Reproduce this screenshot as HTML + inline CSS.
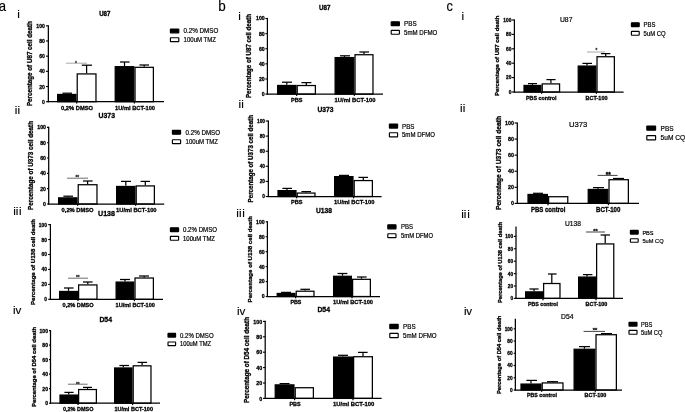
<!DOCTYPE html>
<html><head><meta charset="utf-8"><title>Figure</title>
<style>
html,body{margin:0;padding:0;background:#fff;}
body{width:685px;height:412px;overflow:hidden;}
svg{display:block;font-family:"Liberation Sans",sans-serif;filter:blur(0.35px);}
text{stroke:#000;stroke-width:0.3px;}
text.r{stroke-width:0.2px;}
text.p{stroke-width:0.15px;}
text.rm{stroke-width:0.15px;}
</style></head><body>
<svg width="685" height="412" viewBox="0 0 685 412">
<rect x="0" y="0" width="685" height="412" fill="#fff"/>
<line x1="66.80" y1="93.20" x2="66.80" y2="93.85" stroke="#000" stroke-width="1.25"/>
<line x1="62.40" y1="93.20" x2="72.00" y2="93.20" stroke="#000" stroke-width="1.25"/>
<rect x="57.62" y="94.47" width="18.35" height="7.23" fill="#000" stroke="#000" stroke-width="1.25"/>
<line x1="86.60" y1="65.20" x2="86.60" y2="73.30" stroke="#000" stroke-width="1.25"/>
<line x1="81.80" y1="65.20" x2="92.00" y2="65.20" stroke="#000" stroke-width="1.25"/>
<rect x="77.22" y="73.92" width="18.75" height="27.78" fill="#fff" stroke="#000" stroke-width="1.25"/>
<line x1="124.50" y1="62.00" x2="124.50" y2="66.05" stroke="#000" stroke-width="1.25"/>
<line x1="120.00" y1="62.00" x2="129.60" y2="62.00" stroke="#000" stroke-width="1.25"/>
<rect x="115.22" y="66.67" width="18.55" height="35.03" fill="#000" stroke="#000" stroke-width="1.25"/>
<line x1="144.20" y1="65.00" x2="144.20" y2="66.70" stroke="#000" stroke-width="1.25"/>
<line x1="139.40" y1="65.00" x2="149.00" y2="65.00" stroke="#000" stroke-width="1.25"/>
<rect x="135.03" y="67.33" width="18.35" height="34.38" fill="#fff" stroke="#000" stroke-width="1.25"/>
<line x1="48.35" y1="25.17" x2="48.35" y2="102.33" stroke="#000" stroke-width="1.25"/>
<line x1="47.73" y1="101.70" x2="164.00" y2="101.70" stroke="#000" stroke-width="1.25"/>
<line x1="46.00" y1="25.80" x2="48.35" y2="25.80" stroke="#000" stroke-width="1.125"/>
<text x="44.85" y="27.90" font-size="5.87" font-weight="bold" text-anchor="end" textLength="8.55" lengthAdjust="spacingAndGlyphs">100</text>
<line x1="46.00" y1="40.98" x2="48.35" y2="40.98" stroke="#000" stroke-width="1.125"/>
<text x="44.85" y="43.08" font-size="5.87" font-weight="bold" text-anchor="end" textLength="5.70" lengthAdjust="spacingAndGlyphs">80</text>
<line x1="46.00" y1="56.16" x2="48.35" y2="56.16" stroke="#000" stroke-width="1.125"/>
<text x="44.85" y="58.26" font-size="5.87" font-weight="bold" text-anchor="end" textLength="5.70" lengthAdjust="spacingAndGlyphs">60</text>
<line x1="46.00" y1="71.34" x2="48.35" y2="71.34" stroke="#000" stroke-width="1.125"/>
<text x="44.85" y="73.44" font-size="5.87" font-weight="bold" text-anchor="end" textLength="5.70" lengthAdjust="spacingAndGlyphs">40</text>
<line x1="46.00" y1="86.52" x2="48.35" y2="86.52" stroke="#000" stroke-width="1.125"/>
<text x="44.85" y="88.62" font-size="5.87" font-weight="bold" text-anchor="end" textLength="5.70" lengthAdjust="spacingAndGlyphs">20</text>
<line x1="46.00" y1="101.70" x2="48.35" y2="101.70" stroke="#000" stroke-width="1.125"/>
<text x="44.85" y="103.80" font-size="5.87" font-weight="bold" text-anchor="end" textLength="2.85" lengthAdjust="spacingAndGlyphs">0</text>
<line x1="76.60" y1="101.70" x2="76.60" y2="103.50" stroke="#000" stroke-width="1.25"/>
<line x1="134.40" y1="101.70" x2="134.40" y2="103.50" stroke="#000" stroke-width="1.25"/>
<line x1="66.00" y1="63.20" x2="87.00" y2="63.20" stroke="#999" stroke-width="0.85"/>
<text x="76.00" y="64.87" font-size="4.60" font-weight="bold" text-anchor="middle" style="fill:#444;stroke:#444">*</text>
<text x="104.80" y="16.30" font-size="6.35" font-weight="bold" text-anchor="middle" textLength="11.20" lengthAdjust="spacingAndGlyphs">U87</text>
<rect x="170.40" y="28.95" width="8.40" height="3.90" fill="#000" stroke="#000" stroke-width="1.15" rx="0.4"/>
<rect x="170.40" y="37.75" width="8.40" height="3.90" fill="#fff" stroke="#000" stroke-width="1.15" rx="0.4"/>
<text x="183.60" y="33.47" font-size="6.89" class="r" textLength="34.80" lengthAdjust="spacingAndGlyphs">0.2% DMSO</text>
<text x="183.60" y="42.18" font-size="6.63" class="r" textLength="32.40" lengthAdjust="spacingAndGlyphs">100uM TMZ</text>
<text x="77.00" y="110.00" font-size="6.05" font-weight="bold" text-anchor="middle" textLength="32.00" lengthAdjust="spacingAndGlyphs">0,2% DMSO</text>
<text x="135.00" y="110.00" font-size="6.00" font-weight="bold" text-anchor="middle" textLength="40.00" lengthAdjust="spacingAndGlyphs">1U/ml BCT-100</text>
<text x="32.50" y="63.60" font-size="6.37" font-weight="bold" text-anchor="middle" textLength="85.00" lengthAdjust="spacingAndGlyphs" transform="rotate(-90 32.50 63.60)">Percentage of U87 cell death</text>
<line x1="67.80" y1="196.20" x2="67.80" y2="197.25" stroke="#000" stroke-width="1.25"/>
<line x1="63.40" y1="196.20" x2="73.00" y2="196.20" stroke="#000" stroke-width="1.25"/>
<rect x="58.62" y="197.88" width="18.35" height="6.12" fill="#000" stroke="#000" stroke-width="1.25"/>
<line x1="87.60" y1="181.00" x2="87.60" y2="184.10" stroke="#000" stroke-width="1.25"/>
<line x1="83.00" y1="181.00" x2="92.60" y2="181.00" stroke="#000" stroke-width="1.25"/>
<rect x="78.22" y="184.72" width="18.75" height="19.28" fill="#fff" stroke="#000" stroke-width="1.25"/>
<line x1="125.80" y1="181.40" x2="125.80" y2="185.85" stroke="#000" stroke-width="1.25"/>
<line x1="121.00" y1="181.40" x2="131.00" y2="181.40" stroke="#000" stroke-width="1.25"/>
<rect x="116.62" y="186.47" width="18.35" height="17.53" fill="#000" stroke="#000" stroke-width="1.25"/>
<line x1="145.30" y1="181.40" x2="145.30" y2="185.30" stroke="#000" stroke-width="1.25"/>
<line x1="140.60" y1="181.40" x2="150.00" y2="181.40" stroke="#000" stroke-width="1.25"/>
<rect x="136.22" y="185.92" width="18.15" height="18.08" fill="#fff" stroke="#000" stroke-width="1.25"/>
<line x1="48.70" y1="126.78" x2="48.70" y2="204.62" stroke="#000" stroke-width="1.25"/>
<line x1="48.08" y1="204.00" x2="164.20" y2="204.00" stroke="#000" stroke-width="1.25"/>
<line x1="47.00" y1="127.40" x2="48.70" y2="127.40" stroke="#000" stroke-width="1.125"/>
<text x="46.00" y="129.40" font-size="5.59" font-weight="bold" text-anchor="end" textLength="8.70" lengthAdjust="spacingAndGlyphs">100</text>
<line x1="47.00" y1="142.72" x2="48.70" y2="142.72" stroke="#000" stroke-width="1.125"/>
<text x="46.00" y="144.72" font-size="5.59" font-weight="bold" text-anchor="end" textLength="5.80" lengthAdjust="spacingAndGlyphs">80</text>
<line x1="47.00" y1="158.04" x2="48.70" y2="158.04" stroke="#000" stroke-width="1.125"/>
<text x="46.00" y="160.04" font-size="5.59" font-weight="bold" text-anchor="end" textLength="5.80" lengthAdjust="spacingAndGlyphs">60</text>
<line x1="47.00" y1="173.36" x2="48.70" y2="173.36" stroke="#000" stroke-width="1.125"/>
<text x="46.00" y="175.36" font-size="5.59" font-weight="bold" text-anchor="end" textLength="5.80" lengthAdjust="spacingAndGlyphs">40</text>
<line x1="47.00" y1="188.68" x2="48.70" y2="188.68" stroke="#000" stroke-width="1.125"/>
<text x="46.00" y="190.68" font-size="5.59" font-weight="bold" text-anchor="end" textLength="5.80" lengthAdjust="spacingAndGlyphs">20</text>
<line x1="47.00" y1="204.00" x2="48.70" y2="204.00" stroke="#000" stroke-width="1.125"/>
<text x="46.00" y="206.00" font-size="5.59" font-weight="bold" text-anchor="end" textLength="2.90" lengthAdjust="spacingAndGlyphs">0</text>
<line x1="77.60" y1="204.00" x2="77.60" y2="205.80" stroke="#000" stroke-width="1.25"/>
<line x1="135.60" y1="204.00" x2="135.60" y2="205.80" stroke="#000" stroke-width="1.25"/>
<line x1="67.00" y1="178.20" x2="88.00" y2="178.20" stroke="#555" stroke-width="0.85"/>
<text x="77.30" y="179.27" font-size="4.60" font-weight="bold" text-anchor="middle" style="fill:#333;stroke:#333">**</text>
<text x="106.80" y="118.00" font-size="7.13" font-weight="bold" text-anchor="middle" textLength="16.40" lengthAdjust="spacingAndGlyphs">U373</text>
<rect x="172.40" y="130.35" width="8.20" height="3.90" fill="#000" stroke="#000" stroke-width="1.15" rx="0.4"/>
<rect x="172.40" y="139.75" width="8.20" height="3.90" fill="#fff" stroke="#000" stroke-width="1.15" rx="0.4"/>
<text x="185.60" y="134.84" font-size="6.81" class="r" textLength="34.40" lengthAdjust="spacingAndGlyphs">0.2% DMSO</text>
<text x="185.60" y="144.18" font-size="6.63" class="r" textLength="32.40" lengthAdjust="spacingAndGlyphs">100uM TMZ</text>
<text x="77.60" y="212.00" font-size="6.05" font-weight="bold" text-anchor="middle" textLength="32.00" lengthAdjust="spacingAndGlyphs">0,2% DMSO</text>
<text x="136.30" y="212.00" font-size="6.09" font-weight="bold" text-anchor="middle" textLength="40.60" lengthAdjust="spacingAndGlyphs">1U/ml BCT-100</text>
<text x="32.95" y="165.50" font-size="6.41" font-weight="bold" text-anchor="middle" textLength="89.00" lengthAdjust="spacingAndGlyphs" transform="rotate(-90 32.95 165.50)">Percentage of U373 cell death</text>
<line x1="68.50" y1="288.00" x2="68.50" y2="290.85" stroke="#000" stroke-width="1.25"/>
<line x1="64.00" y1="288.00" x2="73.60" y2="288.00" stroke="#000" stroke-width="1.25"/>
<rect x="59.62" y="291.48" width="17.75" height="7.82" fill="#000" stroke="#000" stroke-width="1.25"/>
<line x1="87.80" y1="282.00" x2="87.80" y2="284.30" stroke="#000" stroke-width="1.25"/>
<line x1="83.00" y1="282.00" x2="92.60" y2="282.00" stroke="#000" stroke-width="1.25"/>
<rect x="78.62" y="284.93" width="18.35" height="14.38" fill="#fff" stroke="#000" stroke-width="1.25"/>
<line x1="124.95" y1="279.50" x2="124.95" y2="281.45" stroke="#000" stroke-width="1.25"/>
<line x1="120.00" y1="279.50" x2="130.00" y2="279.50" stroke="#000" stroke-width="1.25"/>
<rect x="116.12" y="282.08" width="17.65" height="17.22" fill="#000" stroke="#000" stroke-width="1.25"/>
<line x1="144.20" y1="276.00" x2="144.20" y2="277.40" stroke="#000" stroke-width="1.25"/>
<line x1="139.00" y1="276.00" x2="149.00" y2="276.00" stroke="#000" stroke-width="1.25"/>
<rect x="135.03" y="278.02" width="18.35" height="21.28" fill="#fff" stroke="#000" stroke-width="1.25"/>
<line x1="50.40" y1="223.97" x2="50.40" y2="299.93" stroke="#000" stroke-width="1.25"/>
<line x1="49.77" y1="299.30" x2="163.00" y2="299.30" stroke="#000" stroke-width="1.25"/>
<line x1="48.20" y1="224.60" x2="50.40" y2="224.60" stroke="#000" stroke-width="1.125"/>
<text x="46.90" y="226.60" font-size="5.59" font-weight="bold" text-anchor="end" textLength="8.10" lengthAdjust="spacingAndGlyphs">100</text>
<line x1="48.20" y1="239.54" x2="50.40" y2="239.54" stroke="#000" stroke-width="1.125"/>
<text x="46.90" y="241.54" font-size="5.59" font-weight="bold" text-anchor="end" textLength="5.40" lengthAdjust="spacingAndGlyphs">80</text>
<line x1="48.20" y1="254.48" x2="50.40" y2="254.48" stroke="#000" stroke-width="1.125"/>
<text x="46.90" y="256.48" font-size="5.59" font-weight="bold" text-anchor="end" textLength="5.40" lengthAdjust="spacingAndGlyphs">60</text>
<line x1="48.20" y1="269.42" x2="50.40" y2="269.42" stroke="#000" stroke-width="1.125"/>
<text x="46.90" y="271.42" font-size="5.59" font-weight="bold" text-anchor="end" textLength="5.40" lengthAdjust="spacingAndGlyphs">40</text>
<line x1="48.20" y1="284.36" x2="50.40" y2="284.36" stroke="#000" stroke-width="1.125"/>
<text x="46.90" y="286.36" font-size="5.59" font-weight="bold" text-anchor="end" textLength="5.40" lengthAdjust="spacingAndGlyphs">20</text>
<line x1="48.20" y1="299.30" x2="50.40" y2="299.30" stroke="#000" stroke-width="1.125"/>
<text x="46.90" y="301.30" font-size="5.59" font-weight="bold" text-anchor="end" textLength="2.70" lengthAdjust="spacingAndGlyphs">0</text>
<line x1="78.00" y1="299.30" x2="78.00" y2="301.10" stroke="#000" stroke-width="1.25"/>
<line x1="134.40" y1="299.30" x2="134.40" y2="301.10" stroke="#000" stroke-width="1.25"/>
<line x1="68.00" y1="278.20" x2="88.00" y2="278.20" stroke="#555" stroke-width="0.85"/>
<text x="77.70" y="279.27" font-size="4.60" font-weight="bold" text-anchor="middle" style="fill:#333;stroke:#333">**</text>
<text x="106.50" y="216.00" font-size="7.40" font-weight="bold" text-anchor="middle" textLength="17.00" lengthAdjust="spacingAndGlyphs">U138</text>
<rect x="170.40" y="227.75" width="8.20" height="3.90" fill="#000" stroke="#000" stroke-width="1.15" rx="0.4"/>
<rect x="170.40" y="236.35" width="8.20" height="3.90" fill="#fff" stroke="#000" stroke-width="1.15" rx="0.4"/>
<text x="183.00" y="232.21" font-size="6.73" class="r" textLength="34.00" lengthAdjust="spacingAndGlyphs">0.2% DMSO</text>
<text x="183.00" y="240.75" font-size="6.55" class="r" textLength="32.00" lengthAdjust="spacingAndGlyphs">100uM TMZ</text>
<text x="78.10" y="307.00" font-size="5.86" font-weight="bold" text-anchor="middle" textLength="31.00" lengthAdjust="spacingAndGlyphs">0,2% DMSO</text>
<text x="135.30" y="307.00" font-size="5.91" font-weight="bold" text-anchor="middle" textLength="39.40" lengthAdjust="spacingAndGlyphs">1U/ml BCT-100</text>
<text x="34.80" y="262.00" font-size="6.19" font-weight="bold" text-anchor="middle" textLength="86.00" lengthAdjust="spacingAndGlyphs" transform="rotate(-90 34.80 262.00)">Percentage of U138 cell death</text>
<line x1="68.70" y1="392.40" x2="68.70" y2="394.45" stroke="#000" stroke-width="1.25"/>
<line x1="64.40" y1="392.40" x2="73.60" y2="392.40" stroke="#000" stroke-width="1.25"/>
<rect x="60.02" y="395.08" width="17.35" height="8.12" fill="#000" stroke="#000" stroke-width="1.25"/>
<line x1="87.50" y1="387.40" x2="87.50" y2="388.90" stroke="#000" stroke-width="1.25"/>
<line x1="83.00" y1="387.40" x2="92.00" y2="387.40" stroke="#000" stroke-width="1.25"/>
<rect x="78.62" y="389.52" width="17.75" height="13.68" fill="#fff" stroke="#000" stroke-width="1.25"/>
<line x1="123.30" y1="365.50" x2="123.30" y2="367.35" stroke="#000" stroke-width="1.25"/>
<line x1="119.40" y1="365.50" x2="129.00" y2="365.50" stroke="#000" stroke-width="1.25"/>
<rect x="114.62" y="367.98" width="17.35" height="35.22" fill="#000" stroke="#000" stroke-width="1.25"/>
<line x1="142.10" y1="362.40" x2="142.10" y2="365.20" stroke="#000" stroke-width="1.25"/>
<line x1="137.60" y1="362.40" x2="147.00" y2="362.40" stroke="#000" stroke-width="1.25"/>
<rect x="133.22" y="365.82" width="17.75" height="37.38" fill="#fff" stroke="#000" stroke-width="1.25"/>
<line x1="50.50" y1="329.98" x2="50.50" y2="403.82" stroke="#000" stroke-width="1.25"/>
<line x1="49.88" y1="403.20" x2="160.00" y2="403.20" stroke="#000" stroke-width="1.25"/>
<line x1="49.00" y1="330.60" x2="50.50" y2="330.60" stroke="#000" stroke-width="1.125"/>
<text x="47.95" y="332.55" font-size="5.45" font-weight="bold" text-anchor="end" textLength="8.40" lengthAdjust="spacingAndGlyphs">100</text>
<line x1="49.00" y1="345.12" x2="50.50" y2="345.12" stroke="#000" stroke-width="1.125"/>
<text x="47.95" y="347.07" font-size="5.45" font-weight="bold" text-anchor="end" textLength="5.60" lengthAdjust="spacingAndGlyphs">80</text>
<line x1="49.00" y1="359.64" x2="50.50" y2="359.64" stroke="#000" stroke-width="1.125"/>
<text x="47.95" y="361.59" font-size="5.45" font-weight="bold" text-anchor="end" textLength="5.60" lengthAdjust="spacingAndGlyphs">60</text>
<line x1="49.00" y1="374.16" x2="50.50" y2="374.16" stroke="#000" stroke-width="1.125"/>
<text x="47.95" y="376.11" font-size="5.45" font-weight="bold" text-anchor="end" textLength="5.60" lengthAdjust="spacingAndGlyphs">40</text>
<line x1="49.00" y1="388.68" x2="50.50" y2="388.68" stroke="#000" stroke-width="1.125"/>
<text x="47.95" y="390.63" font-size="5.45" font-weight="bold" text-anchor="end" textLength="5.60" lengthAdjust="spacingAndGlyphs">20</text>
<line x1="49.00" y1="403.20" x2="50.50" y2="403.20" stroke="#000" stroke-width="1.125"/>
<text x="47.95" y="405.15" font-size="5.45" font-weight="bold" text-anchor="end" textLength="2.80" lengthAdjust="spacingAndGlyphs">0</text>
<line x1="78.00" y1="403.20" x2="78.00" y2="405.00" stroke="#000" stroke-width="1.25"/>
<line x1="132.60" y1="403.20" x2="132.60" y2="405.00" stroke="#000" stroke-width="1.25"/>
<line x1="68.00" y1="384.20" x2="87.60" y2="384.20" stroke="#555" stroke-width="0.85"/>
<text x="77.70" y="385.67" font-size="4.60" font-weight="bold" text-anchor="middle" style="fill:#333;stroke:#333">**</text>
<text x="105.70" y="321.60" font-size="7.14" font-weight="bold" text-anchor="middle" textLength="12.60" lengthAdjust="spacingAndGlyphs">D54</text>
<rect x="168.00" y="333.35" width="7.60" height="3.70" fill="#000" stroke="#000" stroke-width="1.15" rx="0.4"/>
<rect x="168.00" y="341.95" width="7.60" height="3.70" fill="#fff" stroke="#000" stroke-width="1.15" rx="0.4"/>
<text x="180.00" y="337.68" font-size="6.65" class="r" textLength="33.60" lengthAdjust="spacingAndGlyphs">0.2% DMSO</text>
<text x="180.00" y="346.17" font-size="6.35" class="r" textLength="31.00" lengthAdjust="spacingAndGlyphs">100uM TMZ</text>
<text x="78.20" y="411.00" font-size="5.74" font-weight="bold" text-anchor="middle" textLength="30.40" lengthAdjust="spacingAndGlyphs">0,2% DMSO</text>
<text x="133.70" y="411.00" font-size="5.79" font-weight="bold" text-anchor="middle" textLength="38.60" lengthAdjust="spacingAndGlyphs">1U/ml BCT-100</text>
<text x="36.20" y="367.00" font-size="5.99" font-weight="bold" text-anchor="middle" textLength="80.00" lengthAdjust="spacingAndGlyphs" transform="rotate(-90 36.20 367.00)">Percentage of D54 cell death</text>
<line x1="286.80" y1="82.20" x2="286.80" y2="84.85" stroke="#000" stroke-width="1.25"/>
<line x1="282.00" y1="82.20" x2="292.00" y2="82.20" stroke="#000" stroke-width="1.25"/>
<rect x="277.62" y="85.47" width="18.35" height="8.62" fill="#000" stroke="#000" stroke-width="1.25"/>
<line x1="306.30" y1="82.60" x2="306.30" y2="84.90" stroke="#000" stroke-width="1.25"/>
<line x1="301.40" y1="82.60" x2="311.40" y2="82.60" stroke="#000" stroke-width="1.25"/>
<rect x="297.23" y="85.53" width="18.15" height="8.57" fill="#fff" stroke="#000" stroke-width="1.25"/>
<line x1="344.45" y1="55.80" x2="344.45" y2="56.95" stroke="#000" stroke-width="1.25"/>
<line x1="340.00" y1="55.80" x2="350.00" y2="55.80" stroke="#000" stroke-width="1.25"/>
<rect x="335.12" y="57.58" width="18.65" height="36.52" fill="#000" stroke="#000" stroke-width="1.25"/>
<line x1="364.00" y1="52.00" x2="364.00" y2="54.10" stroke="#000" stroke-width="1.25"/>
<line x1="359.40" y1="52.00" x2="369.00" y2="52.00" stroke="#000" stroke-width="1.25"/>
<rect x="355.02" y="54.73" width="17.95" height="39.37" fill="#fff" stroke="#000" stroke-width="1.25"/>
<line x1="267.40" y1="17.88" x2="267.40" y2="94.72" stroke="#000" stroke-width="1.25"/>
<line x1="266.77" y1="94.10" x2="383.00" y2="94.10" stroke="#000" stroke-width="1.25"/>
<line x1="265.40" y1="18.50" x2="267.40" y2="18.50" stroke="#000" stroke-width="1.125"/>
<text x="264.70" y="20.45" font-size="5.45" font-weight="bold" text-anchor="end" textLength="8.70" lengthAdjust="spacingAndGlyphs">100</text>
<line x1="265.40" y1="33.62" x2="267.40" y2="33.62" stroke="#000" stroke-width="1.125"/>
<text x="264.70" y="35.57" font-size="5.45" font-weight="bold" text-anchor="end" textLength="5.80" lengthAdjust="spacingAndGlyphs">80</text>
<line x1="265.40" y1="48.74" x2="267.40" y2="48.74" stroke="#000" stroke-width="1.125"/>
<text x="264.70" y="50.69" font-size="5.45" font-weight="bold" text-anchor="end" textLength="5.80" lengthAdjust="spacingAndGlyphs">60</text>
<line x1="265.40" y1="63.86" x2="267.40" y2="63.86" stroke="#000" stroke-width="1.125"/>
<text x="264.70" y="65.81" font-size="5.45" font-weight="bold" text-anchor="end" textLength="5.80" lengthAdjust="spacingAndGlyphs">40</text>
<line x1="265.40" y1="78.98" x2="267.40" y2="78.98" stroke="#000" stroke-width="1.125"/>
<text x="264.70" y="80.93" font-size="5.45" font-weight="bold" text-anchor="end" textLength="5.80" lengthAdjust="spacingAndGlyphs">20</text>
<line x1="265.40" y1="94.10" x2="267.40" y2="94.10" stroke="#000" stroke-width="1.125"/>
<text x="264.70" y="96.05" font-size="5.45" font-weight="bold" text-anchor="end" textLength="2.90" lengthAdjust="spacingAndGlyphs">0</text>
<line x1="296.60" y1="94.10" x2="296.60" y2="95.90" stroke="#000" stroke-width="1.25"/>
<line x1="354.40" y1="94.10" x2="354.40" y2="95.90" stroke="#000" stroke-width="1.25"/>
<text x="324.70" y="9.60" font-size="6.60" font-weight="bold" text-anchor="middle" textLength="11.40" lengthAdjust="spacingAndGlyphs">U87</text>
<rect x="391.20" y="21.75" width="8.20" height="3.90" fill="#000" stroke="#000" stroke-width="1.15" rx="0.4"/>
<rect x="391.20" y="30.35" width="8.20" height="3.90" fill="#fff" stroke="#000" stroke-width="1.15" rx="0.4"/>
<text x="404.00" y="26.28" font-size="6.93" class="r" textLength="12.60" lengthAdjust="spacingAndGlyphs">PBS</text>
<text x="404.00" y="34.81" font-size="6.73" class="r" textLength="33.30" lengthAdjust="spacingAndGlyphs">5mM DFMO</text>
<text x="296.70" y="102.00" font-size="5.82" font-weight="bold" text-anchor="middle" textLength="11.40" lengthAdjust="spacingAndGlyphs">PBS</text>
<text x="355.00" y="102.00" font-size="6.12" font-weight="bold" text-anchor="middle" textLength="40.80" lengthAdjust="spacingAndGlyphs">1U/ml BCT-100</text>
<text x="251.30" y="56.00" font-size="6.29" font-weight="bold" text-anchor="middle" textLength="84.00" lengthAdjust="spacingAndGlyphs" transform="rotate(-90 251.30 56.00)">Percentage of U87 cell death</text>
<line x1="287.00" y1="188.40" x2="287.00" y2="190.00" stroke="#000" stroke-width="1.25"/>
<line x1="282.40" y1="188.40" x2="292.00" y2="188.40" stroke="#000" stroke-width="1.25"/>
<rect x="278.02" y="190.62" width="17.95" height="5.88" fill="#000" stroke="#000" stroke-width="1.25"/>
<line x1="306.10" y1="191.60" x2="306.10" y2="192.45" stroke="#000" stroke-width="1.25"/>
<line x1="301.40" y1="191.60" x2="311.00" y2="191.60" stroke="#000" stroke-width="1.25"/>
<rect x="297.23" y="193.07" width="17.75" height="3.43" fill="#fff" stroke="#000" stroke-width="1.25"/>
<line x1="343.80" y1="175.40" x2="343.80" y2="176.00" stroke="#000" stroke-width="1.25"/>
<line x1="339.00" y1="175.40" x2="349.00" y2="175.40" stroke="#000" stroke-width="1.25"/>
<rect x="334.62" y="176.62" width="18.35" height="19.88" fill="#000" stroke="#000" stroke-width="1.25"/>
<line x1="363.30" y1="177.40" x2="363.30" y2="179.95" stroke="#000" stroke-width="1.25"/>
<line x1="358.40" y1="177.40" x2="368.00" y2="177.40" stroke="#000" stroke-width="1.25"/>
<rect x="354.23" y="180.57" width="18.15" height="15.93" fill="#fff" stroke="#000" stroke-width="1.25"/>
<line x1="268.35" y1="120.38" x2="268.35" y2="197.12" stroke="#000" stroke-width="1.25"/>
<line x1="267.73" y1="196.50" x2="381.60" y2="196.50" stroke="#000" stroke-width="1.25"/>
<line x1="265.70" y1="121.00" x2="268.35" y2="121.00" stroke="#000" stroke-width="1.125"/>
<text x="265.00" y="122.95" font-size="5.45" font-weight="bold" text-anchor="end" textLength="8.00" lengthAdjust="spacingAndGlyphs">100</text>
<line x1="265.70" y1="136.10" x2="268.35" y2="136.10" stroke="#000" stroke-width="1.125"/>
<text x="265.00" y="138.05" font-size="5.45" font-weight="bold" text-anchor="end" textLength="5.33" lengthAdjust="spacingAndGlyphs">80</text>
<line x1="265.70" y1="151.20" x2="268.35" y2="151.20" stroke="#000" stroke-width="1.125"/>
<text x="265.00" y="153.15" font-size="5.45" font-weight="bold" text-anchor="end" textLength="5.33" lengthAdjust="spacingAndGlyphs">60</text>
<line x1="265.70" y1="166.30" x2="268.35" y2="166.30" stroke="#000" stroke-width="1.125"/>
<text x="265.00" y="168.25" font-size="5.45" font-weight="bold" text-anchor="end" textLength="5.33" lengthAdjust="spacingAndGlyphs">40</text>
<line x1="265.70" y1="181.40" x2="268.35" y2="181.40" stroke="#000" stroke-width="1.125"/>
<text x="265.00" y="183.35" font-size="5.45" font-weight="bold" text-anchor="end" textLength="5.33" lengthAdjust="spacingAndGlyphs">20</text>
<line x1="265.70" y1="196.50" x2="268.35" y2="196.50" stroke="#000" stroke-width="1.125"/>
<text x="265.00" y="198.45" font-size="5.45" font-weight="bold" text-anchor="end" textLength="2.67" lengthAdjust="spacingAndGlyphs">0</text>
<line x1="296.60" y1="196.50" x2="296.60" y2="198.30" stroke="#000" stroke-width="1.25"/>
<line x1="353.60" y1="196.50" x2="353.60" y2="198.30" stroke="#000" stroke-width="1.25"/>
<text x="325.40" y="112.40" font-size="6.96" font-weight="bold" text-anchor="middle" textLength="16.00" lengthAdjust="spacingAndGlyphs">U373</text>
<rect x="389.40" y="123.95" width="8.20" height="4.10" fill="#000" stroke="#000" stroke-width="1.15" rx="0.4"/>
<rect x="389.40" y="132.75" width="8.20" height="4.10" fill="#fff" stroke="#000" stroke-width="1.15" rx="0.4"/>
<text x="402.00" y="128.54" font-size="6.82" class="r" textLength="12.40" lengthAdjust="spacingAndGlyphs">PBS</text>
<text x="402.00" y="137.29" font-size="6.67" class="r" textLength="33.00" lengthAdjust="spacingAndGlyphs">5mM DFMO</text>
<text x="296.70" y="204.00" font-size="5.82" font-weight="bold" text-anchor="middle" textLength="11.40" lengthAdjust="spacingAndGlyphs">PBS</text>
<text x="354.20" y="204.00" font-size="6.06" font-weight="bold" text-anchor="middle" textLength="40.40" lengthAdjust="spacingAndGlyphs">1U/ml BCT-100</text>
<text x="253.10" y="158.70" font-size="6.29" font-weight="bold" text-anchor="middle" textLength="87.40" lengthAdjust="spacingAndGlyphs" transform="rotate(-90 253.10 158.70)">Percentage of U373 cell death</text>
<line x1="286.10" y1="292.40" x2="286.10" y2="292.85" stroke="#000" stroke-width="1.25"/>
<line x1="281.00" y1="292.40" x2="291.00" y2="292.40" stroke="#000" stroke-width="1.25"/>
<rect x="277.23" y="293.48" width="17.75" height="3.02" fill="#000" stroke="#000" stroke-width="1.25"/>
<line x1="305.10" y1="289.30" x2="305.10" y2="290.60" stroke="#000" stroke-width="1.25"/>
<line x1="300.40" y1="289.30" x2="310.00" y2="289.30" stroke="#000" stroke-width="1.25"/>
<rect x="296.23" y="291.22" width="17.75" height="5.28" fill="#fff" stroke="#000" stroke-width="1.25"/>
<line x1="342.50" y1="273.50" x2="342.50" y2="275.65" stroke="#000" stroke-width="1.25"/>
<line x1="337.60" y1="273.50" x2="347.40" y2="273.50" stroke="#000" stroke-width="1.25"/>
<rect x="333.62" y="276.28" width="17.75" height="20.22" fill="#000" stroke="#000" stroke-width="1.25"/>
<line x1="361.50" y1="277.00" x2="361.50" y2="278.70" stroke="#000" stroke-width="1.25"/>
<line x1="357.00" y1="277.00" x2="366.60" y2="277.00" stroke="#000" stroke-width="1.25"/>
<rect x="352.62" y="279.32" width="17.75" height="17.18" fill="#fff" stroke="#000" stroke-width="1.25"/>
<line x1="267.40" y1="221.18" x2="267.40" y2="297.12" stroke="#000" stroke-width="1.25"/>
<line x1="266.77" y1="296.50" x2="380.00" y2="296.50" stroke="#000" stroke-width="1.25"/>
<line x1="265.70" y1="221.80" x2="267.40" y2="221.80" stroke="#000" stroke-width="1.125"/>
<text x="264.70" y="223.70" font-size="5.31" font-weight="bold" text-anchor="end" textLength="8.60" lengthAdjust="spacingAndGlyphs">100</text>
<line x1="265.70" y1="236.74" x2="267.40" y2="236.74" stroke="#000" stroke-width="1.125"/>
<text x="264.70" y="238.64" font-size="5.31" font-weight="bold" text-anchor="end" textLength="5.73" lengthAdjust="spacingAndGlyphs">80</text>
<line x1="265.70" y1="251.68" x2="267.40" y2="251.68" stroke="#000" stroke-width="1.125"/>
<text x="264.70" y="253.58" font-size="5.31" font-weight="bold" text-anchor="end" textLength="5.73" lengthAdjust="spacingAndGlyphs">60</text>
<line x1="265.70" y1="266.62" x2="267.40" y2="266.62" stroke="#000" stroke-width="1.125"/>
<text x="264.70" y="268.52" font-size="5.31" font-weight="bold" text-anchor="end" textLength="5.73" lengthAdjust="spacingAndGlyphs">40</text>
<line x1="265.70" y1="281.56" x2="267.40" y2="281.56" stroke="#000" stroke-width="1.125"/>
<text x="264.70" y="283.46" font-size="5.31" font-weight="bold" text-anchor="end" textLength="5.73" lengthAdjust="spacingAndGlyphs">20</text>
<line x1="265.70" y1="296.50" x2="267.40" y2="296.50" stroke="#000" stroke-width="1.125"/>
<text x="264.70" y="298.40" font-size="5.31" font-weight="bold" text-anchor="end" textLength="2.87" lengthAdjust="spacingAndGlyphs">0</text>
<line x1="295.60" y1="296.50" x2="295.60" y2="298.30" stroke="#000" stroke-width="1.25"/>
<line x1="352.00" y1="296.50" x2="352.00" y2="298.30" stroke="#000" stroke-width="1.25"/>
<text x="324.00" y="213.00" font-size="6.96" font-weight="bold" text-anchor="middle" textLength="16.00" lengthAdjust="spacingAndGlyphs">U138</text>
<rect x="387.80" y="224.75" width="8.20" height="4.10" fill="#000" stroke="#000" stroke-width="1.15" rx="0.4"/>
<rect x="387.80" y="233.75" width="8.20" height="3.90" fill="#fff" stroke="#000" stroke-width="1.15" rx="0.4"/>
<text x="401.00" y="229.26" font-size="6.60" class="r" textLength="12.00" lengthAdjust="spacingAndGlyphs">PBS</text>
<text x="401.00" y="238.11" font-size="6.47" class="r" textLength="32.00" lengthAdjust="spacingAndGlyphs">5mM DFMO</text>
<text x="295.90" y="304.00" font-size="5.62" font-weight="bold" text-anchor="middle" textLength="11.00" lengthAdjust="spacingAndGlyphs">PBS</text>
<text x="353.00" y="304.00" font-size="6.00" font-weight="bold" text-anchor="middle" textLength="40.00" lengthAdjust="spacingAndGlyphs">1U/ml BCT-100</text>
<text x="252.00" y="259.20" font-size="6.22" font-weight="bold" text-anchor="middle" textLength="86.40" lengthAdjust="spacingAndGlyphs" transform="rotate(-90 252.00 259.20)">Percentage of U138 cell death</text>
<line x1="284.60" y1="383.60" x2="284.60" y2="384.25" stroke="#000" stroke-width="1.25"/>
<line x1="279.60" y1="383.60" x2="289.60" y2="383.60" stroke="#000" stroke-width="1.25"/>
<rect x="275.23" y="384.88" width="18.75" height="13.52" fill="#000" stroke="#000" stroke-width="1.25"/>
<rect x="295.23" y="387.72" width="18.15" height="10.68" fill="#fff" stroke="#000" stroke-width="1.25"/>
<line x1="343.00" y1="355.30" x2="343.00" y2="356.45" stroke="#000" stroke-width="1.25"/>
<line x1="338.00" y1="355.30" x2="348.00" y2="355.30" stroke="#000" stroke-width="1.25"/>
<rect x="333.62" y="357.08" width="18.75" height="41.32" fill="#000" stroke="#000" stroke-width="1.25"/>
<line x1="363.00" y1="352.40" x2="363.00" y2="356.10" stroke="#000" stroke-width="1.25"/>
<line x1="358.00" y1="352.40" x2="367.60" y2="352.40" stroke="#000" stroke-width="1.25"/>
<rect x="353.62" y="356.72" width="18.75" height="41.68" fill="#fff" stroke="#000" stroke-width="1.25"/>
<line x1="265.20" y1="320.77" x2="265.20" y2="399.02" stroke="#000" stroke-width="1.25"/>
<line x1="264.57" y1="398.40" x2="381.60" y2="398.40" stroke="#000" stroke-width="1.25"/>
<line x1="263.00" y1="321.40" x2="265.20" y2="321.40" stroke="#000" stroke-width="1.125"/>
<text x="262.30" y="323.50" font-size="5.87" font-weight="bold" text-anchor="end" textLength="9.00" lengthAdjust="spacingAndGlyphs">100</text>
<line x1="263.00" y1="336.80" x2="265.20" y2="336.80" stroke="#000" stroke-width="1.125"/>
<text x="262.30" y="338.90" font-size="5.87" font-weight="bold" text-anchor="end" textLength="6.00" lengthAdjust="spacingAndGlyphs">80</text>
<line x1="263.00" y1="352.20" x2="265.20" y2="352.20" stroke="#000" stroke-width="1.125"/>
<text x="262.30" y="354.30" font-size="5.87" font-weight="bold" text-anchor="end" textLength="6.00" lengthAdjust="spacingAndGlyphs">60</text>
<line x1="263.00" y1="367.60" x2="265.20" y2="367.60" stroke="#000" stroke-width="1.125"/>
<text x="262.30" y="369.70" font-size="5.87" font-weight="bold" text-anchor="end" textLength="6.00" lengthAdjust="spacingAndGlyphs">40</text>
<line x1="263.00" y1="383.00" x2="265.20" y2="383.00" stroke="#000" stroke-width="1.125"/>
<text x="262.30" y="385.10" font-size="5.87" font-weight="bold" text-anchor="end" textLength="6.00" lengthAdjust="spacingAndGlyphs">20</text>
<line x1="263.00" y1="398.40" x2="265.20" y2="398.40" stroke="#000" stroke-width="1.125"/>
<text x="262.30" y="400.50" font-size="5.87" font-weight="bold" text-anchor="end" textLength="3.00" lengthAdjust="spacingAndGlyphs">0</text>
<line x1="294.60" y1="398.40" x2="294.60" y2="400.20" stroke="#000" stroke-width="1.25"/>
<line x1="353.00" y1="398.40" x2="353.00" y2="400.20" stroke="#000" stroke-width="1.25"/>
<text x="323.70" y="312.00" font-size="7.14" font-weight="bold" text-anchor="middle" textLength="12.60" lengthAdjust="spacingAndGlyphs">D54</text>
<rect x="389.80" y="324.35" width="8.40" height="4.30" fill="#000" stroke="#000" stroke-width="1.15" rx="0.4"/>
<rect x="389.80" y="333.35" width="8.40" height="4.30" fill="#fff" stroke="#000" stroke-width="1.15" rx="0.4"/>
<text x="403.00" y="329.08" font-size="6.93" class="r" textLength="12.60" lengthAdjust="spacingAndGlyphs">PBS</text>
<text x="403.00" y="338.03" font-size="6.79" class="r" textLength="33.60" lengthAdjust="spacingAndGlyphs">5mM DFMO</text>
<text x="295.00" y="406.00" font-size="5.72" font-weight="bold" text-anchor="middle" textLength="11.20" lengthAdjust="spacingAndGlyphs">PBS</text>
<text x="353.70" y="406.00" font-size="6.21" font-weight="bold" text-anchor="middle" textLength="41.40" lengthAdjust="spacingAndGlyphs">1U/ml BCT-100</text>
<text x="249.10" y="360.00" font-size="6.44" font-weight="bold" text-anchor="middle" textLength="86.00" lengthAdjust="spacingAndGlyphs" transform="rotate(-90 249.10 360.00)">Percentage of D54 cell death</text>
<line x1="532.50" y1="83.60" x2="532.50" y2="84.85" stroke="#000" stroke-width="1.25"/>
<line x1="528.00" y1="83.60" x2="537.00" y2="83.60" stroke="#000" stroke-width="1.25"/>
<rect x="524.02" y="85.47" width="16.95" height="6.53" fill="#000" stroke="#000" stroke-width="1.25"/>
<line x1="550.90" y1="79.60" x2="550.90" y2="83.30" stroke="#000" stroke-width="1.25"/>
<line x1="546.40" y1="79.60" x2="555.60" y2="79.60" stroke="#000" stroke-width="1.25"/>
<rect x="542.23" y="83.92" width="17.35" height="8.08" fill="#fff" stroke="#000" stroke-width="1.25"/>
<line x1="587.00" y1="63.40" x2="587.00" y2="65.45" stroke="#000" stroke-width="1.25"/>
<line x1="582.40" y1="63.40" x2="592.00" y2="63.40" stroke="#000" stroke-width="1.25"/>
<rect x="578.23" y="66.07" width="17.55" height="25.93" fill="#000" stroke="#000" stroke-width="1.25"/>
<line x1="605.70" y1="53.60" x2="605.70" y2="56.10" stroke="#000" stroke-width="1.25"/>
<line x1="601.00" y1="53.60" x2="610.40" y2="53.60" stroke="#000" stroke-width="1.25"/>
<rect x="597.02" y="56.73" width="17.35" height="35.27" fill="#fff" stroke="#000" stroke-width="1.25"/>
<line x1="514.40" y1="19.38" x2="514.40" y2="92.62" stroke="#000" stroke-width="1.25"/>
<line x1="513.77" y1="92.00" x2="623.60" y2="92.00" stroke="#000" stroke-width="1.25"/>
<line x1="511.70" y1="20.00" x2="514.40" y2="20.00" stroke="#000" stroke-width="1.125"/>
<text x="511.30" y="21.85" font-size="5.17" font-weight="bold" text-anchor="end" textLength="8.00" lengthAdjust="spacingAndGlyphs">100</text>
<line x1="511.70" y1="34.40" x2="514.40" y2="34.40" stroke="#000" stroke-width="1.125"/>
<text x="511.30" y="36.25" font-size="5.17" font-weight="bold" text-anchor="end" textLength="5.33" lengthAdjust="spacingAndGlyphs">80</text>
<line x1="511.70" y1="48.80" x2="514.40" y2="48.80" stroke="#000" stroke-width="1.125"/>
<text x="511.30" y="50.65" font-size="5.17" font-weight="bold" text-anchor="end" textLength="5.33" lengthAdjust="spacingAndGlyphs">60</text>
<line x1="511.70" y1="63.20" x2="514.40" y2="63.20" stroke="#000" stroke-width="1.125"/>
<text x="511.30" y="65.05" font-size="5.17" font-weight="bold" text-anchor="end" textLength="5.33" lengthAdjust="spacingAndGlyphs">40</text>
<line x1="511.70" y1="77.60" x2="514.40" y2="77.60" stroke="#000" stroke-width="1.125"/>
<text x="511.30" y="79.45" font-size="5.17" font-weight="bold" text-anchor="end" textLength="5.33" lengthAdjust="spacingAndGlyphs">20</text>
<line x1="511.70" y1="92.00" x2="514.40" y2="92.00" stroke="#000" stroke-width="1.125"/>
<text x="511.30" y="93.85" font-size="5.17" font-weight="bold" text-anchor="end" textLength="2.67" lengthAdjust="spacingAndGlyphs">0</text>
<line x1="541.60" y1="92.00" x2="541.60" y2="93.80" stroke="#000" stroke-width="1.25"/>
<line x1="596.40" y1="92.00" x2="596.40" y2="93.80" stroke="#000" stroke-width="1.25"/>
<line x1="587.00" y1="52.00" x2="605.00" y2="52.00" stroke="#999" stroke-width="0.85"/>
<text x="596.40" y="51.87" font-size="4.60" font-weight="bold" text-anchor="middle" style="fill:#333;stroke:#333">*</text>
<text x="566.20" y="22.00" font-size="7.09" class="r" text-anchor="middle" textLength="12.50" lengthAdjust="spacingAndGlyphs">U87</text>
<rect x="631.40" y="22.75" width="7.80" height="3.90" fill="#000" stroke="#000" stroke-width="1.15" rx="0.4"/>
<rect x="631.40" y="31.35" width="7.80" height="3.90" fill="#fff" stroke="#000" stroke-width="1.15" rx="0.4"/>
<text x="643.60" y="27.12" font-size="6.49" class="r" textLength="11.80" lengthAdjust="spacingAndGlyphs">PBS</text>
<text x="643.60" y="35.73" font-size="6.50" class="r" textLength="22.00" lengthAdjust="spacingAndGlyphs">5uM CQ</text>
<text x="541.30" y="100.00" font-size="5.61" font-weight="bold" text-anchor="middle" textLength="30.60" lengthAdjust="spacingAndGlyphs">PBS control</text>
<text x="596.50" y="100.00" font-size="5.83" font-weight="bold" text-anchor="middle" textLength="22.20" lengthAdjust="spacingAndGlyphs">BCT-100</text>
<text x="499.00" y="55.80" font-size="6.02" font-weight="bold" text-anchor="middle" textLength="80.40" lengthAdjust="spacingAndGlyphs" transform="rotate(-90 499.00 55.80)">Percentage of U87 cell death</text>
<line x1="537.70" y1="193.30" x2="537.70" y2="193.85" stroke="#000" stroke-width="1.25"/>
<line x1="533.00" y1="193.30" x2="543.00" y2="193.30" stroke="#000" stroke-width="1.25"/>
<rect x="528.02" y="194.47" width="19.35" height="8.93" fill="#000" stroke="#000" stroke-width="1.25"/>
<rect x="548.62" y="196.72" width="19.15" height="6.68" fill="#fff" stroke="#000" stroke-width="1.25"/>
<line x1="598.00" y1="187.60" x2="598.00" y2="188.85" stroke="#000" stroke-width="1.25"/>
<line x1="593.00" y1="187.60" x2="604.00" y2="187.60" stroke="#000" stroke-width="1.25"/>
<rect x="588.23" y="189.47" width="19.55" height="13.93" fill="#000" stroke="#000" stroke-width="1.25"/>
<line x1="618.70" y1="178.50" x2="618.70" y2="179.10" stroke="#000" stroke-width="1.25"/>
<line x1="613.00" y1="178.50" x2="624.00" y2="178.50" stroke="#000" stroke-width="1.25"/>
<rect x="609.02" y="179.72" width="19.35" height="23.68" fill="#fff" stroke="#000" stroke-width="1.25"/>
<line x1="517.30" y1="122.38" x2="517.30" y2="204.03" stroke="#000" stroke-width="1.25"/>
<line x1="516.67" y1="203.40" x2="639.00" y2="203.40" stroke="#000" stroke-width="1.25"/>
<line x1="514.60" y1="123.00" x2="517.30" y2="123.00" stroke="#000" stroke-width="1.125"/>
<text x="514.00" y="125.08" font-size="5.80" font-weight="bold" text-anchor="end" textLength="8.90" lengthAdjust="spacingAndGlyphs">100</text>
<line x1="514.60" y1="139.08" x2="517.30" y2="139.08" stroke="#000" stroke-width="1.125"/>
<text x="514.00" y="141.16" font-size="5.80" font-weight="bold" text-anchor="end" textLength="5.93" lengthAdjust="spacingAndGlyphs">80</text>
<line x1="514.60" y1="155.16" x2="517.30" y2="155.16" stroke="#000" stroke-width="1.125"/>
<text x="514.00" y="157.23" font-size="5.80" font-weight="bold" text-anchor="end" textLength="5.93" lengthAdjust="spacingAndGlyphs">60</text>
<line x1="514.60" y1="171.24" x2="517.30" y2="171.24" stroke="#000" stroke-width="1.125"/>
<text x="514.00" y="173.31" font-size="5.80" font-weight="bold" text-anchor="end" textLength="5.93" lengthAdjust="spacingAndGlyphs">40</text>
<line x1="514.60" y1="187.32" x2="517.30" y2="187.32" stroke="#000" stroke-width="1.125"/>
<text x="514.00" y="189.39" font-size="5.80" font-weight="bold" text-anchor="end" textLength="5.93" lengthAdjust="spacingAndGlyphs">20</text>
<line x1="514.60" y1="203.40" x2="517.30" y2="203.40" stroke="#000" stroke-width="1.125"/>
<text x="514.00" y="205.47" font-size="5.80" font-weight="bold" text-anchor="end" textLength="2.97" lengthAdjust="spacingAndGlyphs">0</text>
<line x1="548.00" y1="203.40" x2="548.00" y2="205.20" stroke="#000" stroke-width="1.25"/>
<line x1="608.40" y1="203.40" x2="608.40" y2="205.20" stroke="#000" stroke-width="1.25"/>
<line x1="597.60" y1="175.40" x2="617.60" y2="175.40" stroke="#222" stroke-width="0.85"/>
<text x="608.30" y="177.17" font-size="6.50" font-weight="bold" text-anchor="middle">**</text>
<text x="578.20" y="127.00" font-size="8.10" class="r" text-anchor="middle" textLength="18.40" lengthAdjust="spacingAndGlyphs">U373</text>
<rect x="646.80" y="125.95" width="8.80" height="4.30" fill="#000" stroke="#000" stroke-width="1.15" rx="0.4"/>
<rect x="646.80" y="135.55" width="8.80" height="4.30" fill="#fff" stroke="#000" stroke-width="1.15" rx="0.4"/>
<text x="660.60" y="130.76" font-size="7.15" class="r" textLength="13.00" lengthAdjust="spacingAndGlyphs">PBS</text>
<text x="660.60" y="140.40" font-size="7.27" class="r" textLength="24.60" lengthAdjust="spacingAndGlyphs">5uM CQ</text>
<text x="548.20" y="212.00" font-size="6.31" font-weight="bold" text-anchor="middle" textLength="34.40" lengthAdjust="spacingAndGlyphs">PBS control</text>
<text x="608.20" y="212.00" font-size="6.40" font-weight="bold" text-anchor="middle" textLength="24.40" lengthAdjust="spacingAndGlyphs">BCT-100</text>
<text x="501.20" y="163.00" font-size="6.77" font-weight="bold" text-anchor="middle" textLength="94.00" lengthAdjust="spacingAndGlyphs" transform="rotate(-90 501.20 163.00)">Percentage of U373 cell death</text>
<line x1="534.00" y1="289.00" x2="534.00" y2="291.25" stroke="#000" stroke-width="1.25"/>
<line x1="529.40" y1="289.00" x2="538.60" y2="289.00" stroke="#000" stroke-width="1.25"/>
<rect x="525.62" y="291.88" width="16.75" height="6.52" fill="#000" stroke="#000" stroke-width="1.25"/>
<line x1="551.80" y1="274.00" x2="551.80" y2="282.90" stroke="#000" stroke-width="1.25"/>
<line x1="548.00" y1="274.00" x2="556.60" y2="274.00" stroke="#000" stroke-width="1.25"/>
<rect x="543.62" y="283.52" width="16.35" height="14.88" fill="#fff" stroke="#000" stroke-width="1.25"/>
<line x1="587.00" y1="274.60" x2="587.00" y2="276.45" stroke="#000" stroke-width="1.25"/>
<line x1="583.00" y1="274.60" x2="592.40" y2="274.60" stroke="#000" stroke-width="1.25"/>
<rect x="578.62" y="277.08" width="16.75" height="21.32" fill="#000" stroke="#000" stroke-width="1.25"/>
<line x1="605.20" y1="235.00" x2="605.20" y2="243.30" stroke="#000" stroke-width="1.25"/>
<line x1="600.60" y1="235.00" x2="610.00" y2="235.00" stroke="#000" stroke-width="1.25"/>
<rect x="596.62" y="243.92" width="17.15" height="54.47" fill="#fff" stroke="#000" stroke-width="1.25"/>
<line x1="516.00" y1="226.57" x2="516.00" y2="299.02" stroke="#000" stroke-width="1.25"/>
<line x1="515.38" y1="298.40" x2="623.00" y2="298.40" stroke="#000" stroke-width="1.25"/>
<line x1="513.80" y1="236.40" x2="516.00" y2="236.40" stroke="#000" stroke-width="1.125"/>
<text x="513.10" y="238.30" font-size="5.31" font-weight="bold" text-anchor="end" textLength="7.90" lengthAdjust="spacingAndGlyphs">100</text>
<line x1="513.80" y1="248.80" x2="516.00" y2="248.80" stroke="#000" stroke-width="1.125"/>
<text x="513.10" y="250.70" font-size="5.31" font-weight="bold" text-anchor="end" textLength="5.27" lengthAdjust="spacingAndGlyphs">80</text>
<line x1="513.80" y1="261.20" x2="516.00" y2="261.20" stroke="#000" stroke-width="1.125"/>
<text x="513.10" y="263.10" font-size="5.31" font-weight="bold" text-anchor="end" textLength="5.27" lengthAdjust="spacingAndGlyphs">60</text>
<line x1="513.80" y1="273.60" x2="516.00" y2="273.60" stroke="#000" stroke-width="1.125"/>
<text x="513.10" y="275.50" font-size="5.31" font-weight="bold" text-anchor="end" textLength="5.27" lengthAdjust="spacingAndGlyphs">40</text>
<line x1="513.80" y1="286.00" x2="516.00" y2="286.00" stroke="#000" stroke-width="1.125"/>
<text x="513.10" y="287.90" font-size="5.31" font-weight="bold" text-anchor="end" textLength="5.27" lengthAdjust="spacingAndGlyphs">20</text>
<line x1="513.80" y1="298.40" x2="516.00" y2="298.40" stroke="#000" stroke-width="1.125"/>
<text x="513.10" y="300.30" font-size="5.31" font-weight="bold" text-anchor="end" textLength="2.63" lengthAdjust="spacingAndGlyphs">0</text>
<line x1="543.00" y1="298.40" x2="543.00" y2="300.20" stroke="#000" stroke-width="1.25"/>
<line x1="596.00" y1="298.40" x2="596.00" y2="300.20" stroke="#000" stroke-width="1.25"/>
<line x1="586.00" y1="232.00" x2="605.00" y2="232.00" stroke="#222" stroke-width="0.85"/>
<text x="595.50" y="232.95" font-size="5.60" font-weight="bold" text-anchor="middle" style="fill:#111;stroke:#111">**</text>
<text x="573.00" y="226.00" font-size="6.96" class="r" text-anchor="middle" textLength="16.00" lengthAdjust="spacingAndGlyphs">U138</text>
<rect x="630.40" y="230.35" width="7.80" height="3.70" fill="#000" stroke="#000" stroke-width="1.15" rx="0.4"/>
<rect x="630.40" y="238.75" width="7.80" height="3.50" fill="#fff" stroke="#000" stroke-width="1.15" rx="0.4"/>
<text x="642.40" y="234.50" font-size="6.16" class="r" textLength="11.20" lengthAdjust="spacingAndGlyphs">PBS</text>
<text x="642.40" y="242.84" font-size="6.26" class="r" textLength="21.20" lengthAdjust="spacingAndGlyphs">5uM CQ</text>
<text x="543.00" y="306.00" font-size="5.50" font-weight="bold" text-anchor="middle" textLength="30.00" lengthAdjust="spacingAndGlyphs">PBS control</text>
<text x="596.50" y="306.00" font-size="5.72" font-weight="bold" text-anchor="middle" textLength="21.80" lengthAdjust="spacingAndGlyphs">BCT-100</text>
<text x="502.20" y="262.50" font-size="5.83" font-weight="bold" text-anchor="middle" textLength="81.00" lengthAdjust="spacingAndGlyphs" transform="rotate(-90 502.20 262.50)">Percentage of U138 cell death</text>
<line x1="531.00" y1="380.40" x2="531.00" y2="383.45" stroke="#000" stroke-width="1.25"/>
<line x1="526.40" y1="380.40" x2="537.00" y2="380.40" stroke="#000" stroke-width="1.25"/>
<rect x="521.02" y="384.08" width="19.95" height="5.92" fill="#000" stroke="#000" stroke-width="1.25"/>
<line x1="552.60" y1="381.70" x2="552.60" y2="382.30" stroke="#000" stroke-width="1.25"/>
<line x1="547.00" y1="381.70" x2="558.00" y2="381.70" stroke="#000" stroke-width="1.25"/>
<rect x="542.23" y="382.93" width="20.75" height="7.07" fill="#fff" stroke="#000" stroke-width="1.25"/>
<line x1="584.45" y1="346.60" x2="584.45" y2="348.65" stroke="#000" stroke-width="1.25"/>
<line x1="579.00" y1="346.60" x2="590.00" y2="346.60" stroke="#000" stroke-width="1.25"/>
<rect x="574.12" y="349.28" width="20.65" height="40.72" fill="#000" stroke="#000" stroke-width="1.25"/>
<line x1="606.20" y1="333.60" x2="606.20" y2="334.10" stroke="#000" stroke-width="1.25"/>
<line x1="601.00" y1="333.60" x2="612.00" y2="333.60" stroke="#000" stroke-width="1.25"/>
<rect x="596.02" y="334.72" width="20.35" height="55.28" fill="#fff" stroke="#000" stroke-width="1.25"/>
<line x1="515.35" y1="318.68" x2="515.35" y2="390.62" stroke="#000" stroke-width="1.25"/>
<line x1="514.73" y1="390.00" x2="622.00" y2="390.00" stroke="#000" stroke-width="1.25"/>
<line x1="513.70" y1="328.80" x2="515.35" y2="328.80" stroke="#000" stroke-width="1.125"/>
<text x="512.70" y="330.75" font-size="5.45" font-weight="bold" text-anchor="end" textLength="8.00" lengthAdjust="spacingAndGlyphs">100</text>
<line x1="513.70" y1="341.04" x2="515.35" y2="341.04" stroke="#000" stroke-width="1.125"/>
<text x="512.70" y="342.99" font-size="5.45" font-weight="bold" text-anchor="end" textLength="5.33" lengthAdjust="spacingAndGlyphs">80</text>
<line x1="513.70" y1="353.28" x2="515.35" y2="353.28" stroke="#000" stroke-width="1.125"/>
<text x="512.70" y="355.23" font-size="5.45" font-weight="bold" text-anchor="end" textLength="5.33" lengthAdjust="spacingAndGlyphs">60</text>
<line x1="513.70" y1="365.52" x2="515.35" y2="365.52" stroke="#000" stroke-width="1.125"/>
<text x="512.70" y="367.47" font-size="5.45" font-weight="bold" text-anchor="end" textLength="5.33" lengthAdjust="spacingAndGlyphs">40</text>
<line x1="513.70" y1="377.76" x2="515.35" y2="377.76" stroke="#000" stroke-width="1.125"/>
<text x="512.70" y="379.71" font-size="5.45" font-weight="bold" text-anchor="end" textLength="5.33" lengthAdjust="spacingAndGlyphs">20</text>
<line x1="513.70" y1="390.00" x2="515.35" y2="390.00" stroke="#000" stroke-width="1.125"/>
<text x="512.70" y="391.95" font-size="5.45" font-weight="bold" text-anchor="end" textLength="2.67" lengthAdjust="spacingAndGlyphs">0</text>
<line x1="541.60" y1="390.00" x2="541.60" y2="391.80" stroke="#000" stroke-width="1.25"/>
<line x1="595.40" y1="390.00" x2="595.40" y2="391.80" stroke="#000" stroke-width="1.25"/>
<line x1="583.60" y1="331.40" x2="605.00" y2="331.40" stroke="#222" stroke-width="0.85"/>
<text x="595.00" y="331.95" font-size="5.60" font-weight="bold" text-anchor="middle" style="fill:#111;stroke:#111">**</text>
<text x="567.20" y="319.20" font-size="7.03" class="r" text-anchor="middle" textLength="12.40" lengthAdjust="spacingAndGlyphs">D54</text>
<rect x="629.00" y="322.35" width="8.00" height="3.70" fill="#000" stroke="#000" stroke-width="1.15" rx="0.4"/>
<rect x="629.00" y="330.35" width="8.00" height="3.90" fill="#fff" stroke="#000" stroke-width="1.15" rx="0.4"/>
<text x="641.00" y="326.54" font-size="6.27" class="r" textLength="11.40" lengthAdjust="spacingAndGlyphs">PBS</text>
<text x="641.00" y="334.66" font-size="6.32" class="r" textLength="21.40" lengthAdjust="spacingAndGlyphs">5uM CQ</text>
<text x="542.00" y="397.00" font-size="5.50" font-weight="bold" text-anchor="middle" textLength="30.00" lengthAdjust="spacingAndGlyphs">PBS control</text>
<text x="595.50" y="397.00" font-size="5.72" font-weight="bold" text-anchor="middle" textLength="21.80" lengthAdjust="spacingAndGlyphs">BCT-100</text>
<text x="501.20" y="354.80" font-size="5.87" font-weight="bold" text-anchor="middle" textLength="78.40" lengthAdjust="spacingAndGlyphs" transform="rotate(-90 501.20 354.80)">Percentage of D54 cell death</text>
<text x="17.31" y="18.40" font-size="11.6" class="rm">i</text>
<text x="14.71 17.41" y="114.20" font-size="11.6" class="rm">ii</text>
<text x="13.17 15.75 19.11" y="215.00" font-size="11.6" class="rm">iii</text>
<text x="13.11 15.60" y="314.10" font-size="11.6" class="rm">iv</text>
<text x="238.21" y="20.30" font-size="11.6" class="rm">i</text>
<text x="238.51 241.21" y="107.90" font-size="11.6" class="rm">ii</text>
<text x="236.26 239.11 242.26" y="217.00" font-size="11.6" class="rm">iii</text>
<text x="237.11 239.50" y="315.05" font-size="11.6" class="rm">iv</text>
<text x="461.41" y="20.30" font-size="11.6" class="rm">i</text>
<text x="460.06 462.81" y="111.70" font-size="11.6" class="rm">ii</text>
<text x="461.21 463.81 467.21" y="218.00" font-size="11.6" class="rm">iii</text>
<text x="464.06 466.30" y="314.90" font-size="11.6" class="rm">iv</text>
<text x="-1.30" y="10.65" font-size="14.60" class="p" textLength="7.30" lengthAdjust="spacingAndGlyphs">a</text>
<text x="218.20" y="10.65" font-size="14.60" class="p" textLength="7.50" lengthAdjust="spacingAndGlyphs">b</text>
<text x="446.50" y="10.70" font-size="14.60" class="p" textLength="6.40" lengthAdjust="spacingAndGlyphs">c</text>
</svg>
</body></html>
